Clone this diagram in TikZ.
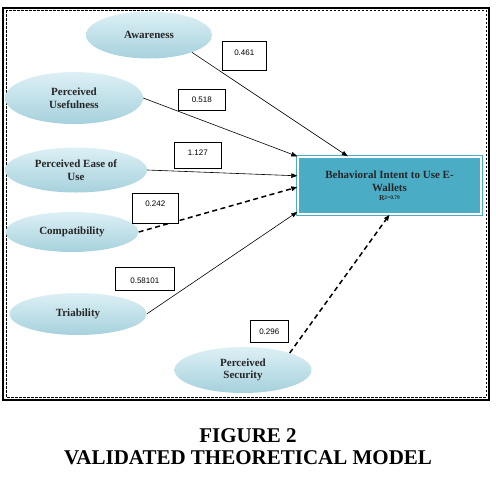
\documentclass[tikz,border=0pt]{standalone}
\usepackage{fontspec}
\setmainfont{Liberation Serif}
\setsansfont{Liberation Sans}
\usetikzlibrary{shapes.geometric,arrows.meta}
\definecolor{ellTop}{HTML}{DDF0F5}
\definecolor{ellBot}{HTML}{A6D1DD}
\definecolor{boxTeal}{HTML}{4BACC6}
\begin{document}
\begin{tikzpicture}[x=1pt,y=-1pt,
    factor/.style={ellipse, top color=ellTop, bottom color=ellBot, inner sep=0pt,
      align=center, text=black!85, font=\fontsize{11}{12.5}\selectfont\bfseries},
    coef/.style n args={3}{draw, fill=white, line width=0.6pt, anchor=north west,
      inner ysep=0pt, minimum width=#1, text height=#2, text depth=#3,
      font=\sffamily\fontsize{8}{9}\selectfont},
    weak/.style={line width=1.5pt, dash pattern=on 5pt off 3.5pt}]
  \useasboundingbox (0,0) rectangle (496,483);
  % frame
  \draw[line width=2pt] (3,8) rectangle (489,400);
  \draw[line width=0.7pt, dash pattern=on 2.5pt off 1.5pt] (6,10) rectangle (486,397);
  % constructs
  \node[factor, minimum width=126pt, minimum height=47pt] (aw) at (149,35) {Awareness};
  \node[factor, minimum width=138pt, minimum height=52pt] (pu) at (74,98) {Perceived\\Usefulness};
  \node[factor, minimum width=142pt, minimum height=45pt] (pe) at (76,170) {Perceived Ease of\\Use};
  \node[factor, minimum width=133pt, minimum height=40pt] (cp) at (72,232) {Compatibility};
  \node[factor, minimum width=137pt, minimum height=42pt] (tr) at (78,314) {Triability};
  \node[factor, minimum width=137pt, minimum height=46pt] (ps) at (243,370) {Perceived\\Security};
  \node[draw=boxTeal, fill=boxTeal, double=white, double distance=1.1pt, line width=1.4pt,
    minimum width=183pt, minimum height=57pt, align=center, text=black!85,
    font=\fontsize{11}{13}\selectfont\bfseries] (bi) at (389.5,185.5)
    {Behavioral Intent to Use E-\\Wallets\\[-3.5pt]{\fontsize{7.5}{8}\selectfont R\raisebox{1.5pt}{\fontsize{5.5}{6}\selectfont 2=0.79}}};
  % paths
  \begin{scope}[-{Triangle[length=6pt,width=4.5pt]}]
    \draw[line width=0.6pt] (aw.-22) -- (bi.145.6);
    \draw[line width=0.6pt] (pu.east) -- (bi.north west);
    \draw[line width=0.6pt] (pe.east) -- (bi.174);
    \draw[weak] (cp.east) -- (bi.181);
    \draw[line width=0.6pt] (tr.east) -- (bi.196);
    \draw[weak] (ps.20) -- (bi.south);
  \end{scope}
  % coefficients
  \node[coef={44pt}{14pt}{15pt}] (c1) at (222,41) {0.461};
  \node[coef={47pt}{13pt}{8pt}] (c2) at (178,89) {0.518};
  \node[coef={47pt}{13pt}{13pt}] (c3) at (174,142) {1.127};
  \node[coef={46pt}{13pt}{17pt}] (c4) at (132,193) {0.242};
  \node[coef={59pt}{16pt}{7pt}] (c5) at (115,267) {0.58101};
  \node[coef={38pt}{14pt}{8pt}] (c6) at (250,320) {0.296};
  % caption
  \node[font=\fontsize{21}{22}\selectfont\bfseries, align=center] (cap) at (248,446.5)
    {FIGURE 2\\VALIDATED THEORETICAL MODEL};
\end{tikzpicture}
\end{document}
